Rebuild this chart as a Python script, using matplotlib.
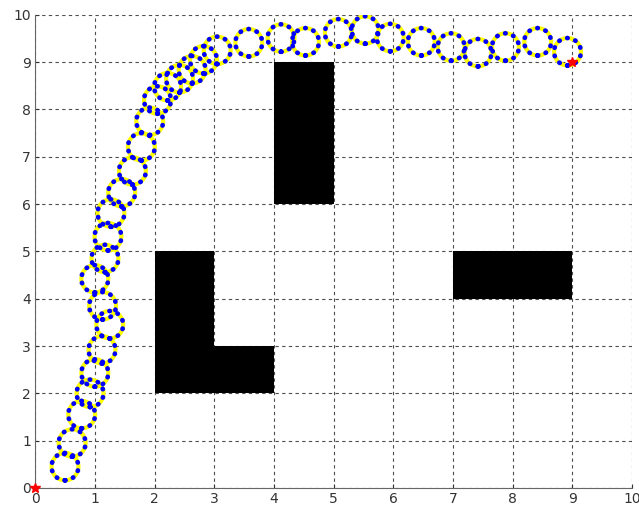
import matplotlib
matplotlib.use("Agg")
import matplotlib.pyplot as plt
from matplotlib.patches import Ellipse

# obstacles: lower-left corner, width, height
obs_x = [4, 2, 3, 7]
obs_y = [6, 2, 2, 4]
obs_w = [1, 1, 1, 2]
obs_h = [3, 3, 1, 1]

# centres of the loops along the path
loop_x = [0.50, 0.62, 0.78, 0.92, 1.00, 1.12, 1.25, 1.13, 1.00, 1.17, 1.22, 1.27,
          1.45, 1.63, 1.78, 1.92, 2.05, 2.22, 2.42, 2.63, 2.82, 3.05, 3.58, 4.12,
          4.53, 5.08, 5.53, 5.95, 6.47, 6.97, 7.42, 7.88, 8.42, 8.92]
loop_y = [0.45, 0.95, 1.55, 2.00, 2.43, 2.92, 3.45, 3.85, 4.42, 4.85, 5.31, 5.81,
          6.24, 6.70, 7.21, 7.75, 8.20, 8.48, 8.65, 8.84, 9.05, 9.25, 9.41, 9.51,
          9.43, 9.62, 9.68, 9.52, 9.43, 9.32, 9.20, 9.32, 9.43, 9.22]

start = (0, 0)
goal = (9, 9)

fig = plt.figure(figsize=(6.39, 5.12), dpi=100)
ax = fig.add_axes([0.055, 0.047, 0.934, 0.924])

ax.bar(obs_x, obs_h, width=obs_w, bottom=obs_y, align="edge", color="black", zorder=2)

# loops: yellow ring with blue dots on it
for cx, cy in zip(loop_x, loop_y):
    ring = Ellipse((cx, cy), 0.45, 0.58, fill=False, ec="yellow", lw=3, zorder=3)
    ax.add_patch(ring)
    dots = Ellipse((cx, cy), 0.45, 0.58, fill=False, ec="blue", lw=3.4,
                   linestyle=(0, (0.1, 1.7)), zorder=4)
    dots.set_capstyle("round")
    ax.add_patch(dots)

ax.plot([start[0], goal[0]], [start[1], goal[1]], "r*", ms=7, ls="none",
        clip_on=False, zorder=5)

ax.set_xlim(0, 10)
ax.set_ylim(0, 10)
ax.set_xticks(range(11))
ax.set_yticks(range(11))
ax.grid(True, color="0.3", ls=(0, (3, 3)), lw=0.8)
ax.set_axisbelow(True)
for s in ["top", "right"]:
    ax.spines[s].set_visible(False)
for s in ["left", "bottom"]:
    ax.spines[s].set_color("0.4")
ax.tick_params(direction="in", length=3, labelsize=10, colors="0.2", pad=3)

fig.savefig("out.png", dpi=100)
